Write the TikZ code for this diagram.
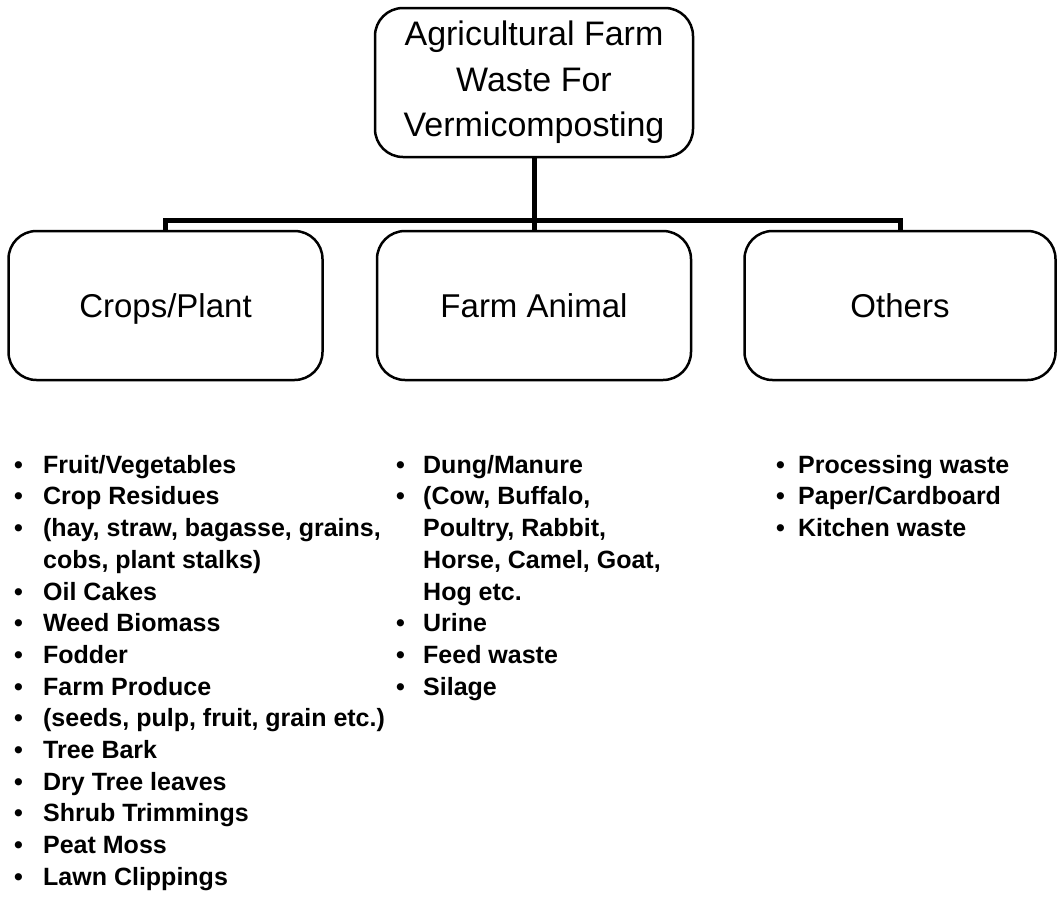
\documentclass[tikz,border=0pt]{standalone}
\usepackage{fontspec}
\setmainfont{Liberation Sans}
% bullet row and continuation row of a list
\newcommand\bulrow[2]{\makebox[#1][l]{•}#2}
\newcommand\controw[2]{\makebox[#1][l]{}#2}
\begin{document}
\begin{tikzpicture}[x=1pt,y=-1pt,
  box/.style={draw, line width=2.5pt, rounded corners=28pt, minimum width=314pt,
    minimum height=149pt, align=center, inner sep=0pt},
  catbox/.style={box, font=\fontsize{33}{40}\selectfont, text height=23.6pt, text depth=0pt},
  conn/.style={line width=5pt},
  itemlist/.style={anchor=north west, inner sep=0pt, align=left,
    font=\bfseries\fontsize{25}{31.7}\selectfont}]
\useasboundingbox (0,0) rectangle (1058,898);

% root and category boxes
\node[box, minimum width=318pt, font=\fontsize{34}{45.5}\selectfont] (root) at (534,82.5)
  {Agricultural Farm\\Waste For\\Vermicomposting};
\node[catbox] (crops)  at (165.5,305.5) {Crops/Plant};
\node[catbox] (animal) at (534,305.5)   {Farm Animal};
\node[catbox, minimum width=311pt] (others) at (900,305.5) {Others};

% tree connectors
\coordinate (bar) at (534,220);
\draw[conn] (root.south) -- (animal.north);
\draw[conn, line cap=rect] (crops.north) -- (crops.north |- bar) -- (others.north |- bar) -- (others.north);

% item lists
\node[itemlist] (cropslist) at (14,450.8) {%
  \strut\bulrow{29pt}{Fruit/Vegetables}\\
  \bulrow{29pt}{Crop Residues}\\
  \bulrow{29pt}{(hay, straw, bagasse, grains,}\\
  \controw{29pt}{cobs, plant stalks)}\\
  \bulrow{29pt}{Oil Cakes}\\
  \bulrow{29pt}{Weed Biomass}\\
  \bulrow{29pt}{Fodder}\\
  \bulrow{29pt}{Farm Produce}\\
  \bulrow{29pt}{(seeds, pulp, fruit, grain etc.)}\\
  \bulrow{29pt}{Tree Bark}\\
  \bulrow{29pt}{Dry Tree leaves}\\
  \bulrow{29pt}{Shrub Trimmings}\\
  \bulrow{29pt}{Peat Moss}\\
  \bulrow{29pt}{Lawn Clippings}};
\node[itemlist] (animallist) at (396,450.8) {%
  \strut\bulrow{27pt}{Dung/Manure}\\
  \bulrow{27pt}{(Cow, Buffalo,}\\
  \controw{27pt}{Poultry, Rabbit,}\\
  \controw{27pt}{Horse, Camel, Goat,}\\
  \controw{27pt}{Hog etc.}\\
  \bulrow{27pt}{Urine}\\
  \bulrow{27pt}{Feed waste}\\
  \bulrow{27pt}{Silage}};
\node[itemlist] (otherslist) at (776,450.8) {%
  \strut\bulrow{22pt}{Processing waste}\\
  \bulrow{22pt}{Paper/Cardboard}\\
  \bulrow{22pt}{Kitchen waste}};
\end{tikzpicture}
\end{document}
